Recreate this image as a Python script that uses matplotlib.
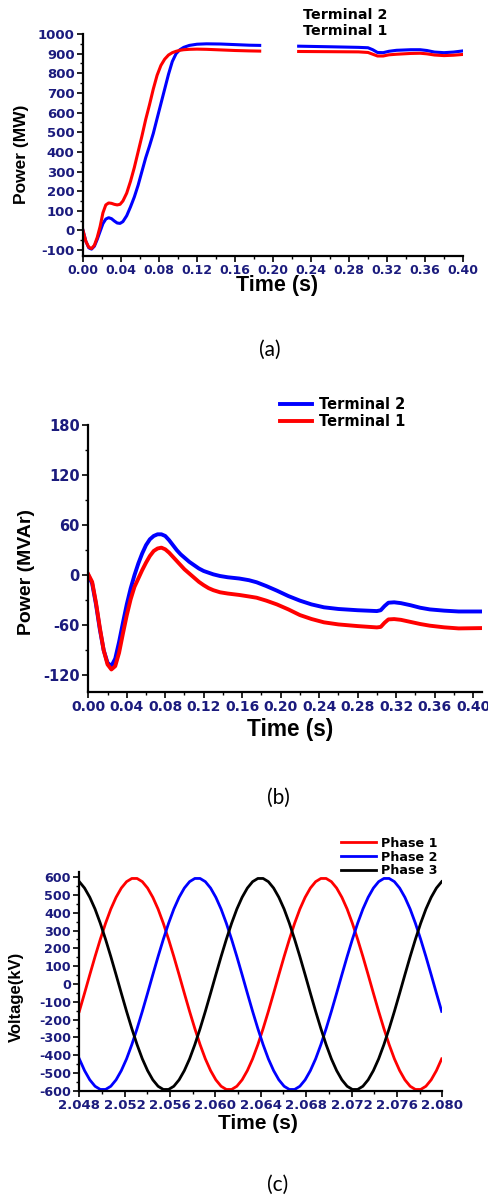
import numpy as np
import matplotlib
matplotlib.use('Agg')
import matplotlib.pyplot as plt
from matplotlib.ticker import MultipleLocator, FormatStrFormatter

# (a) active power, MW -- nan marks the break in the trace
t_p = [0, .003, .006, .009, .012, .015, .018, .021, .024, .027, .030, .033, .036, .039, .042,
       .046, .050, .054, .058, .062, .066, .070, .074, .078, .082, .086, .090, .094, .098, .102, .106,
       .112, .120, .130, .145, .160, .175, .186, .2065,
       .227, .260, .290, .300, .305, .310, .316, .322, .330, .345, .355, .362, .370, .380, .390, .400]
p_term1 = [0, -55, -85, -92, -75, -35, 20, 90, 130, 140, 138, 133, 130, 133, 150,
           190, 250, 320, 400, 480, 565, 640, 720, 790, 840, 872, 893, 905, 912, 917, 920,
           922, 923, 922, 919, 916, 914, 913, np.nan,
           911, 910, 909, 906, 897, 888, 888, 894, 897, 901, 902, 899, 893, 890, 892, 896]
p_term2 = [0, -55, -88, -95, -80, -45, -5, 35, 58, 65, 60, 48, 38, 36, 45,
           75, 120, 170, 230, 300, 370, 430, 494, 570, 645, 720, 795, 860, 900, 920, 932,
           942, 948, 950, 949, 946, 943, 942, np.nan,
           938, 935, 932, 930, 920, 906, 905, 912, 917, 920, 920, 916, 908, 905, 908, 914]

# (b) reactive power, MVAr
t_q = [0, .004, .008, .012, .016, .020, .024, .028, .032, .036, .040, .044, .048, .052, .056,
       .060, .064, .068, .072, .076, .080, .084, .088, .092, .096, .100,
       .105, .110, .115, .120, .125, .130,
       .137, .145, .157, .167, .175, .185, .196, .208, .220, .232, .245, .260, .280, .300,
       .304, .308, .312, .318, .325, .335, .345, .355, .370, .385, .409]
q_term1 = [1, -8, -33, -63, -90, -107, -113, -109, -93, -70, -48, -29, -14, -4, 6,
           15, 23, 29, 32, 33, 31, 27, 22, 17, 12, 7,
           2, -3, -8, -12, -15.5, -18,
           -20.5, -22, -23.7, -25.5, -27, -30.5, -35, -41, -47.8, -52.5, -56.5, -59, -61, -62.6,
           -62, -57, -53, -52.6, -53.5, -56, -58.5, -60.5, -62.5, -63.8, -63.4]
q_term2 = [0, -10, -35, -65, -90, -105, -109, -100, -80, -57, -35, -16, 0, 14, 26,
           36, 43, 47, 49, 49, 47, 42, 36, 30, 25, 21,
           16, 12, 8, 5, 3, 1,
           -1, -2.5, -4, -6, -8.5, -13, -18.5, -25, -30.5, -35, -38.5, -40.5, -42, -43,
           -42, -37, -33, -32.5, -33.5, -36, -39, -41, -42.5, -43.5, -43.5]

# (c) phase voltages, kV, sampled every 1/2160 s from 2.048 s
t_v = 2.048 + np.arange(70) / 2160
v_phase1 = [-154, -52, 52, 154, 251, 341, 421, 487, 539, 575, 593, 593, 575, 539, 487, 421, 341, 251,
            154, 52, -52, -154, -251, -341, -421, -487, -539, -575, -593, -593, -575, -539, -487, -421,
            -341, -251, -154, -52, 52, 154, 251, 341, 421, 487, 539, 575, 593, 593, 575, 539, 487, 421,
            341, 251, 154, 52, -52, -154, -251, -341, -421, -487, -539, -575, -593, -593, -575, -539,
            -487, -421]
v_phase2 = [-421, -487, -539, -575, -593, -593, -575, -539, -487, -421, -341, -251,
            -154, -52, 52, 154, 251, 341, 421, 487, 539, 575, 593, 593, 575, 539, 487, 421, 341, 251,
            154, 52, -52, -154, -251, -341, -421, -487, -539, -575, -593, -593, -575, -539, -487, -421,
            -341, -251, -154, -52, 52, 154, 251, 341, 421, 487, 539, 575, 593, 593, 575, 539, 487, 421,
            341, 251, 154, 52, -52, -154]
v_phase3 = [575, 539, 487, 421, 341, 251, 154, 52, -52, -154, -251, -341, -421, -487, -539, -575,
            -593, -593, -575, -539, -487, -421, -341, -251,
            -154, -52, 52, 154, 251, 341, 421, 487, 539, 575, 593, 593, 575, 539, 487, 421, 341, 251,
            154, 52, -52, -154, -251, -341, -421, -487, -539, -575, -593, -593, -575, -539, -487, -421,
            -341, -251, -154, -52, 52, 154, 251, 341, 421, 487, 539, 575]

plt.rcParams['font.family'] = ['DejaVu Sans']
plt.rcParams['font.weight'] = 'bold'
plt.rcParams['axes.unicode_minus'] = False

NAVY = '#1b1b7d'
W, H = 489, 1198
fig = plt.figure(figsize=(W / 100, H / 100), dpi=100)


def box(left, top, right, bottom):
    return [left / W, 1 - bottom / H, (right - left) / W, (bottom - top) / H]


def style(ax, xsize, ysize):
    for side in ('top', 'right'):
        ax.spines[side].set_visible(False)
    for side in ('left', 'bottom'):
        ax.spines[side].set_linewidth(1.6)
    ax.tick_params(which='major', direction='out', length=4.5, width=1.2, labelcolor=NAVY, pad=1.5)
    ax.tick_params(which='minor', direction='out', length=2.5, width=1.0)
    ax.tick_params(axis='x', labelsize=xsize)
    ax.tick_params(axis='y', labelsize=ysize)


def labels(ax, xtext, ytext, xsize, ysize, xpos, ypos):
    ax.set_xlabel(xtext, family='Liberation Sans', weight='bold', size=xsize, va='center')
    ax.set_ylabel(ytext, family='Liberation Sans', weight='bold', size=ysize, va='center')
    ax.xaxis.set_label_coords(*xpos)
    ax.yaxis.set_label_coords(*ypos)


# (a)
ax1 = fig.add_axes(box(83, 34, 463, 256))
ax1.plot(t_p, p_term2, color='b', lw=2.2, label='Terminal 2')
ax1.plot(t_p, p_term1, color='r', lw=2.2, label='Terminal 1')
ax1.set_xlim(0, 0.40)
ax1.set_ylim(-130, 1000)
ax1.xaxis.set_major_locator(MultipleLocator(0.04))
ax1.xaxis.set_minor_locator(MultipleLocator(0.02))
ax1.xaxis.set_major_formatter(FormatStrFormatter('%.2f'))
ax1.yaxis.set_major_locator(MultipleLocator(100))
ax1.yaxis.set_minor_locator(MultipleLocator(50))
style(ax1, 9, 9.5)
labels(ax1, 'Time (s)', 'Power (MW)', 15.5, 12.5, (0.51, -0.135), (-0.163, 0.459))
leg1 = ax1.legend(loc='upper left', bbox_to_anchor=(296 / W, 1 - 1 / H), bbox_transform=fig.transFigure,
                  frameon=False, handlelength=0, handletextpad=0, borderpad=0, labelspacing=0.12,
                  prop={'family': 'DejaVu Sans', 'weight': 'bold', 'size': 10.3})
for h in leg1.legend_handles:
    h.set_visible(False)

# (b)
ax2 = fig.add_axes(box(88.3, 425, 481.7, 692))
ax2.plot(t_q, q_term2, color='b', lw=2.8, label='Terminal 2')
ax2.plot(t_q, q_term1, color='r', lw=2.8, label='Terminal 1')
ax2.set_xlim(0, 0.409)
ax2.set_ylim(-140, 180)
ax2.xaxis.set_major_locator(MultipleLocator(0.04))
ax2.xaxis.set_minor_locator(MultipleLocator(0.02))
ax2.xaxis.set_major_formatter(FormatStrFormatter('%.2f'))
ax2.yaxis.set_major_locator(MultipleLocator(60))
ax2.yaxis.set_minor_locator(MultipleLocator(30))
style(ax2, 10, 10.5)
labels(ax2, 'Time (s)', 'Power (MVAr)', 16.3, 14, (0.513, -0.139), (-0.156, 0.449))
ax2.legend(loc='upper left', bbox_to_anchor=(273 / W, 1 - 390 / H), bbox_transform=fig.transFigure,
           frameon=False, handlelength=2.2, handletextpad=0.48, borderpad=0, labelspacing=0.15,
           prop={'family': 'DejaVu Sans', 'weight': 'bold', 'size': 10.5})

# (c)
ax3 = fig.add_axes(box(79.3, 871.7, 442.3, 1090.7))
ax3.plot(t_v, v_phase1, color='r', lw=2.0, label='Phase 1')
ax3.plot(t_v, v_phase2, color='b', lw=2.0, label='Phase 2')
ax3.plot(t_v, v_phase3, color='k', lw=2.0, label='Phase 3')
ax3.set_xlim(2.048, 2.080)
ax3.set_ylim(-600, 631)
ax3.xaxis.set_major_locator(MultipleLocator(0.004))
ax3.xaxis.set_minor_locator(MultipleLocator(0.002))
ax3.xaxis.set_major_formatter(FormatStrFormatter('%.3f'))
ax3.yaxis.set_major_locator(MultipleLocator(100))
ax3.yaxis.set_minor_locator(MultipleLocator(50))
style(ax3, 9.5, 9.2)
labels(ax3, 'Time (s)', 'Voltage(kV)', 15, 12, (0.492, -0.1475), (-0.172, 0.428))
ax3.legend(loc='upper left', bbox_to_anchor=(335 / W, 1 - 830.5 / H), bbox_transform=fig.transFigure,
           frameon=False, handlelength=2.7, handletextpad=0.4, borderpad=0, labelspacing=0.05,
           prop={'family': 'DejaVu Sans', 'weight': 'bold', 'size': 9.2})

for tag, x, y in (('(a)', 270, 350), ('(b)', 278, 798), ('(c)', 278, 1185)):
    fig.text(x / W, 1 - y / H, tag, ha='center', va='center', family='Lato', weight='normal', size=15)

fig.savefig('out.png', dpi=100)
